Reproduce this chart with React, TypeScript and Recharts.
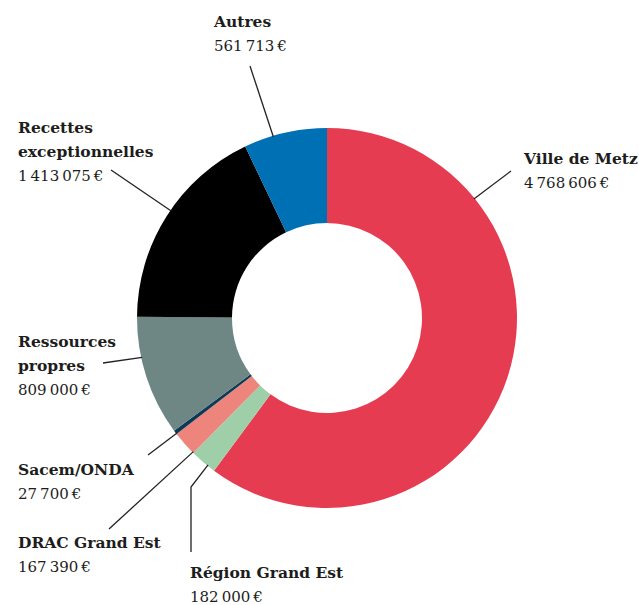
import { Cell, Pie, PieChart } from "recharts";

const sources = [
  "Ville de Metz",
  "Région Grand Est",
  "DRAC Grand Est",
  "Sacem/ONDA",
  "Ressources propres",
  "Recettes exceptionnelles",
  "Autres",
];
const amounts = [4768606, 182000, 167390, 27700, 809000, 1413075, 561713];
const colors = ["#E63C52", "#9FCFA8", "#EE857C", "#0B3A55", "#6E8784", "#000000", "#0070B4"];

// label placement: text lines, text origin, leader anchor angle (clockwise from top), leader path
const labelLayout = [
  { lines: ["Ville de Metz"], x: 524, y: 164, anchor: 51, path: [[511, 171]] },
  { lines: ["Région Grand Est"], x: 190, y: 578, anchor: 219, path: [[191, 552], [191, 487]] },
  { lines: ["DRAC Grand Est"], x: 18, y: 548, anchor: 225, path: [[109, 529]] },
  { lines: ["Sacem/ONDA"], x: 18, y: 475, anchor: 232.5, path: [[148, 455]] },
  { lines: ["Ressources", "propres"], x: 18, y: 347, anchor: 258, path: [[103, 363]] },
  { lines: ["Recettes", "exceptionnelles"], x: 18, y: 133, anchor: 304.5, path: [[111, 170]] },
  { lines: ["Autres"], x: 214, y: 27, anchor: 343.5, path: [[250, 66]] },
];

const data = sources.map((name, i) => ({ name, value: amounts[i] }));

const fmt = (v: number) => v.toString().replace(/\B(?=(\d{3})+(?!\d))/g, "\u2009") + "\u2009€";

const FONT = "'DejaVu Serif', serif";
const LINE_H = 24;

function renderLabel(props: any) {
  const { cx, cy, outerRadius, index, value } = props;
  const l = labelLayout[index];
  const a = (l.anchor * Math.PI) / 180;
  const ax = cx + (outerRadius - 1) * Math.sin(a);
  const ay = cy - (outerRadius - 1) * Math.cos(a);
  const pts = [...l.path, [ax, ay]].map((p) => p.join(",")).join(" ");
  return (
    <g key={`lbl-${index}`}>
      <polyline points={pts} fill="none" stroke="#222" strokeWidth={1.3} />
      <text x={l.x} y={l.y} fontFamily={FONT} fontSize={15.5} fill="#1d1d1b">
        {l.lines.map((t, k) => (
          <tspan key={k} x={l.x} dy={k === 0 ? 0 : LINE_H} fontWeight="bold">
            {t}
          </tspan>
        ))}
        <tspan x={l.x} dy={LINE_H} fontSize={15}>
          {fmt(value)}
        </tspan>
      </text>
    </g>
  );
}

export default function App() {
  return (
    <div style={{ position: "absolute", left: 0, top: 0, background: "#fff" }}>
      <PieChart width={639} height={605} margin={{ top: 0, right: 0, bottom: 0, left: 0 }}>
        <Pie
          data={data}
          dataKey="value"
          nameKey="name"
          cx={327}
          cy={318}
          innerRadius={95}
          outerRadius={190}
          startAngle={90}
          endAngle={-270}
          stroke="none"
          label={renderLabel}
          labelLine={false}
          isAnimationActive={false}
        >
          {data.map((d, i) => (
            <Cell key={d.name} fill={colors[i]} />
          ))}
        </Pie>
      </PieChart>
    </div>
  );
}
